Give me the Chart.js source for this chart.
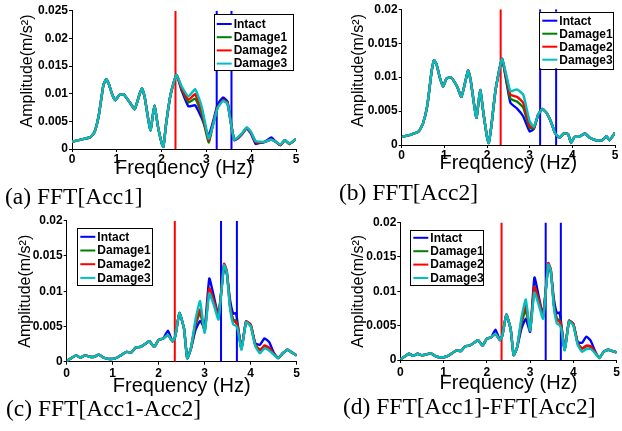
<!DOCTYPE html>
<html><head><meta charset="utf-8">
<script src="https://cdn.jsdelivr.net/npm/chart.js"></script>
<style>
html,body{margin:0;padding:0;background:#fff;}
#wrap{position:relative;width:622px;height:431px;overflow:hidden;background:#fff;}
canvas{position:absolute;}
.cap{position:absolute;font-family:"Liberation Serif","Times New Roman",serif;font-size:23.5px;line-height:23.5px;color:#000;white-space:nowrap;}
</style></head><body>
<div id="wrap">
<canvas id="cA" width="311" height="190" style="left:0px;top:0px"></canvas>
<canvas id="cB" width="311" height="190" style="left:311px;top:0px"></canvas>
<canvas id="cC" width="311" height="190" style="left:0px;top:212px"></canvas>
<canvas id="cD" width="311" height="190" style="left:311px;top:212px"></canvas>
<div class="cap" style="left:5px;top:184.5px">(a) FFT[Acc1]</div>
<div class="cap" style="left:339px;top:180.5px">(b) FFT[Acc2]</div>
<div class="cap" style="left:6px;top:396.5px">(c) FFT[Acc1-Acc2]</div>
<div class="cap" style="left:343px;top:394.5px">(d) FFT[Acc1]-FFT[Acc2]</div>
</div>
<script>
// ---------- data ----------
const seriesNames = ['Intact', 'Damage1', 'Damage2', 'Damage3'];
const seriesColors = ['rgb(0,0,255)', 'rgb(0,128,0)', 'rgb(255,0,0)', 'rgb(0,191,191)'];
const xTicks = [0, 1, 2, 3, 4, 5];

// (a) FFT[Acc1]
const freqA = [0, 0.2, 0.4, 0.5, 0.6, 0.7, 0.76, 0.82, 0.9, 0.97, 1.05, 1.15, 1.3, 1.4, 1.5, 1.56, 1.62, 1.75, 1.84, 1.92, 2.0, 2.04, 2.1, 2.2, 2.33, 2.45, 2.6, 2.75, 2.9, 3.05, 3.15, 3.25, 3.37, 3.47, 3.55, 3.62, 3.7, 3.8, 3.9, 4.0, 4.1, 4.2, 4.3, 4.45, 4.55, 4.65, 4.75, 4.85, 5.0];
const a_intact = [0.0013, 0.0017, 0.0021, 0.003, 0.0062, 0.0115, 0.0126, 0.0118, 0.0098, 0.0088, 0.0097, 0.0099, 0.0083, 0.0072, 0.0097, 0.011, 0.0095, 0.0034, 0.0078, 0.004, 0.0011, 0.0004, 0.0045, 0.0098, 0.0134, 0.0105, 0.0077, 0.0079, 0.0055, 0.0025, 0.005, 0.008, 0.0093, 0.0086, 0.0047, 0.0016, 0.0019, 0.0027, 0.0037, 0.0027, 0.0009, 0.0011, 0.0013, 0.0021, 0.0013, 0.0007, 0.0016, 0.0009, 0.0018];
const a_dmg1 = [0.0013, 0.0017, 0.0021, 0.003, 0.0062, 0.0115, 0.0126, 0.0118, 0.0098, 0.0088, 0.0097, 0.0099, 0.0083, 0.0072, 0.0097, 0.011, 0.0095, 0.0034, 0.0078, 0.004, 0.0011, 0.0004, 0.0045, 0.0098, 0.0134, 0.0108, 0.0084, 0.0091, 0.0062, 0.0012, 0.0045, 0.0075, 0.0088, 0.0083, 0.0045, 0.0017, 0.002, 0.0028, 0.0038, 0.0029, 0.0013, 0.0012, 0.0013, 0.0017, 0.0013, 0.0007, 0.0016, 0.0009, 0.0018];
const a_dmg2 = [0.0013, 0.0017, 0.0021, 0.003, 0.0062, 0.0115, 0.0126, 0.0118, 0.0098, 0.0088, 0.0097, 0.0099, 0.0083, 0.0072, 0.0097, 0.011, 0.0095, 0.0034, 0.0078, 0.004, 0.0011, 0.0004, 0.0045, 0.0098, 0.0134, 0.011, 0.0089, 0.0099, 0.0068, 0.0016, 0.0045, 0.0075, 0.0088, 0.0083, 0.0045, 0.0017, 0.002, 0.0028, 0.0038, 0.0029, 0.0013, 0.0012, 0.0013, 0.0017, 0.0013, 0.0007, 0.0016, 0.0009, 0.0018];
const a_dmg3 = [0.0013, 0.0017, 0.0021, 0.003, 0.0062, 0.0115, 0.0126, 0.0118, 0.0098, 0.0088, 0.0097, 0.0099, 0.0083, 0.0072, 0.0097, 0.011, 0.0095, 0.0034, 0.0078, 0.004, 0.0011, 0.0004, 0.0045, 0.0098, 0.0134, 0.0113, 0.0095, 0.0108, 0.0075, 0.0019, 0.0044, 0.0074, 0.0087, 0.0082, 0.0045, 0.0017, 0.0021, 0.0029, 0.0039, 0.003, 0.0014, 0.0013, 0.0013, 0.0017, 0.0013, 0.0008, 0.0016, 0.001, 0.0018];
const a_redLines = [2.31];
const a_blueLines = [3.23, 3.56];
const a_yTicks = [0, 0.005, 0.01, 0.015, 0.02, 0.025];

// (b) FFT[Acc2]
const freqB = [0, 0.2, 0.4, 0.5, 0.6, 0.7, 0.76, 0.82, 0.9, 0.97, 1.05, 1.15, 1.3, 1.4, 1.5, 1.56, 1.62, 1.75, 1.84, 1.92, 2.0, 2.04, 2.1, 2.2, 2.35, 2.45, 2.55, 2.7, 2.85, 3.0, 3.1, 3.2, 3.3, 3.4, 3.5, 3.6, 3.7, 3.8, 3.9, 3.97, 4.05, 4.15, 4.3, 4.4, 4.55, 4.7, 4.8, 4.87, 5.0];
const b_intact = [0.0012, 0.0015, 0.002, 0.0032, 0.0058, 0.0108, 0.0125, 0.0118, 0.0098, 0.0086, 0.0098, 0.01, 0.0086, 0.0071, 0.0096, 0.011, 0.0094, 0.004, 0.0081, 0.0045, 0.0012, 0.0003, 0.0027, 0.0081, 0.0127, 0.0095, 0.0062, 0.0054, 0.0042, 0.002, 0.0024, 0.0045, 0.0053, 0.0047, 0.0034, 0.0017, 0.0011, 0.0017, 0.0016, 0.0003, 0.0012, 0.0012, 0.0017, 0.0011, 0.0007, 0.0007, 0.0013, 0.0007, 0.0018];
const b_dmg1 = [0.0012, 0.0015, 0.002, 0.0032, 0.0058, 0.0108, 0.0125, 0.0118, 0.0098, 0.0086, 0.0098, 0.01, 0.0086, 0.0071, 0.0096, 0.011, 0.0094, 0.004, 0.0081, 0.0045, 0.0012, 0.0003, 0.0027, 0.0081, 0.0127, 0.0098, 0.0068, 0.0064, 0.0055, 0.0025, 0.0025, 0.0045, 0.0053, 0.0047, 0.0034, 0.0017, 0.0011, 0.0017, 0.0016, 0.0003, 0.0012, 0.0012, 0.0017, 0.0011, 0.0007, 0.0007, 0.0013, 0.0007, 0.0018];
const b_dmg2 = [0.0012, 0.0015, 0.002, 0.0032, 0.0058, 0.0108, 0.0125, 0.0118, 0.0098, 0.0086, 0.0098, 0.01, 0.0086, 0.0071, 0.0096, 0.011, 0.0094, 0.004, 0.0081, 0.0045, 0.0012, 0.0003, 0.0027, 0.0081, 0.0127, 0.0101, 0.0074, 0.0071, 0.0062, 0.0028, 0.0026, 0.0045, 0.0053, 0.0047, 0.0034, 0.0017, 0.0011, 0.0017, 0.0016, 0.0003, 0.0012, 0.0012, 0.0017, 0.0011, 0.0007, 0.0007, 0.0013, 0.0007, 0.0018];
const b_dmg3 = [0.0012, 0.0015, 0.002, 0.0032, 0.0058, 0.0108, 0.0125, 0.0118, 0.0098, 0.0086, 0.0098, 0.01, 0.0086, 0.0071, 0.0096, 0.011, 0.0094, 0.004, 0.0081, 0.0045, 0.0012, 0.0003, 0.0027, 0.0081, 0.0127, 0.0104, 0.0079, 0.0082, 0.0074, 0.0035, 0.0027, 0.0045, 0.0053, 0.0047, 0.0034, 0.0017, 0.0011, 0.0017, 0.0016, 0.0003, 0.0012, 0.0012, 0.0017, 0.0011, 0.0007, 0.0007, 0.0013, 0.0007, 0.0018];
const b_redLines = [2.32];
const b_blueLines = [3.245, 3.62];
const b_yTicks = [0, 0.005, 0.01, 0.015, 0.02];

// (c) FFT[Acc1-Acc2]
const freqC = [0, 0.1, 0.2, 0.3, 0.4, 0.5, 0.6, 0.7, 0.8, 0.9, 1.0, 1.1, 1.2, 1.3, 1.4, 1.5, 1.6, 1.7, 1.8, 1.9, 2.0, 2.1, 2.2, 2.3, 2.36, 2.45, 2.55, 2.62, 2.7, 2.8, 2.9, 3.0, 3.1, 3.2, 3.3, 3.42, 3.48, 3.55, 3.62, 3.68, 3.72, 3.8, 3.9, 4.0, 4.1, 4.2, 4.3, 4.4, 4.5, 4.6, 4.7, 4.8, 4.9, 5.0];
const c_intact = [0.0001, 0.0005, 0.0009, 0.0006, 0.0009, 0.0007, 0.0007, 0.001, 0.0006, 0.0004, 0.0004, 0.0006, 0.001, 0.0014, 0.0013, 0.002, 0.0021, 0.0025, 0.0029, 0.0021, 0.0031, 0.0033, 0.0044, 0.0029, 0.0036, 0.0069, 0.0047, 0.0005, 0.0018, 0.0045, 0.0058, 0.0048, 0.0118, 0.0092, 0.0066, 0.0135, 0.0125, 0.0088, 0.0068, 0.0069, 0.0052, 0.0019, 0.0057, 0.0052, 0.0026, 0.0024, 0.0033, 0.0028, 0.0013, 0.0005, 0.0012, 0.0017, 0.0013, 0.0009];
const c_dmg1 = [0.0001, 0.0005, 0.0009, 0.0006, 0.0009, 0.0007, 0.0007, 0.001, 0.0006, 0.0004, 0.0004, 0.0006, 0.001, 0.0014, 0.0013, 0.002, 0.0021, 0.0025, 0.0029, 0.0021, 0.0031, 0.0033, 0.0038, 0.0029, 0.0036, 0.0069, 0.0047, 0.0005, 0.0019, 0.0052, 0.0069, 0.0044, 0.0102, 0.0086, 0.0063, 0.0137, 0.0128, 0.008, 0.006, 0.0058, 0.0049, 0.0019, 0.0057, 0.0052, 0.0024, 0.0017, 0.0021, 0.0019, 0.0011, 0.0005, 0.0012, 0.0017, 0.0013, 0.0009];
const c_dmg2 = [0.0001, 0.0005, 0.0009, 0.0006, 0.0009, 0.0007, 0.0007, 0.001, 0.0006, 0.0004, 0.0004, 0.0006, 0.001, 0.0014, 0.0013, 0.002, 0.0021, 0.0025, 0.0029, 0.0021, 0.0031, 0.0033, 0.0038, 0.0029, 0.0036, 0.0069, 0.0047, 0.0005, 0.0019, 0.0055, 0.0074, 0.0043, 0.0104, 0.0085, 0.0063, 0.0139, 0.0129, 0.0079, 0.0058, 0.0056, 0.0048, 0.0019, 0.0057, 0.0052, 0.0024, 0.0016, 0.0023, 0.002, 0.0011, 0.0005, 0.0012, 0.0017, 0.0013, 0.0009];
const c_dmg3 = [0.0001, 0.0005, 0.0009, 0.0006, 0.0009, 0.0007, 0.0007, 0.001, 0.0006, 0.0004, 0.0004, 0.0006, 0.001, 0.0014, 0.0013, 0.002, 0.0021, 0.0025, 0.0029, 0.0021, 0.0031, 0.0033, 0.0038, 0.0029, 0.0036, 0.0069, 0.0047, 0.0005, 0.0019, 0.006, 0.0086, 0.0041, 0.0097, 0.008, 0.006, 0.0137, 0.0127, 0.0076, 0.0053, 0.0051, 0.0045, 0.0017, 0.0056, 0.005, 0.0022, 0.0012, 0.0019, 0.0016, 0.001, 0.0005, 0.0012, 0.0017, 0.0013, 0.0009];
const c_redLines = [2.35];
const c_blueLines = [3.355, 3.70];
const c_yTicks = [0, 0.005, 0.01, 0.015, 0.02];

// (d) FFT[Acc1]-FFT[Acc2]
const freqD = [0, 0.1, 0.2, 0.3, 0.4, 0.5, 0.6, 0.7, 0.8, 0.9, 1.0, 1.1, 1.2, 1.3, 1.4, 1.5, 1.6, 1.7, 1.8, 1.9, 2.0, 2.1, 2.2, 2.3, 2.36, 2.45, 2.55, 2.62, 2.7, 2.8, 2.9, 3.0, 3.1, 3.2, 3.3, 3.42, 3.48, 3.55, 3.62, 3.68, 3.72, 3.8, 3.9, 4.0, 4.1, 4.2, 4.3, 4.4, 4.5, 4.6, 4.7, 4.8, 4.9, 5.0];
const d_intact = [0.0001, 0.0005, 0.0009, 0.0006, 0.0009, 0.0007, 0.0008, 0.001, 0.0006, 0.0004, 0.0004, 0.0006, 0.001, 0.0014, 0.0013, 0.002, 0.0021, 0.0025, 0.0029, 0.0021, 0.0031, 0.0033, 0.0044, 0.0029, 0.0036, 0.0066, 0.0045, 0.0007, 0.0018, 0.0046, 0.006, 0.0041, 0.012, 0.0092, 0.0066, 0.0138, 0.0127, 0.0088, 0.0068, 0.0069, 0.0052, 0.0015, 0.0057, 0.0052, 0.0026, 0.0025, 0.0034, 0.0028, 0.0013, 0.0003, 0.0012, 0.0015, 0.0013, 0.0011];
const d_dmg1 = [0.0001, 0.0005, 0.0009, 0.0006, 0.0009, 0.0007, 0.0008, 0.001, 0.0006, 0.0004, 0.0004, 0.0006, 0.001, 0.0014, 0.0013, 0.002, 0.0021, 0.0025, 0.0029, 0.0021, 0.0031, 0.0033, 0.0038, 0.0029, 0.0036, 0.0066, 0.0045, 0.0007, 0.0019, 0.0053, 0.0073, 0.0044, 0.0107, 0.0087, 0.0063, 0.014, 0.013, 0.008, 0.006, 0.0058, 0.0049, 0.0015, 0.0057, 0.0052, 0.0024, 0.0017, 0.002, 0.0019, 0.0011, 0.0003, 0.0012, 0.0015, 0.0013, 0.0011];
const d_dmg2 = [0.0001, 0.0005, 0.0009, 0.0006, 0.0009, 0.0007, 0.0008, 0.001, 0.0006, 0.0004, 0.0004, 0.0006, 0.001, 0.0014, 0.0013, 0.002, 0.0021, 0.0025, 0.0029, 0.0021, 0.0031, 0.0033, 0.0038, 0.0029, 0.0036, 0.0066, 0.0045, 0.0007, 0.0019, 0.0057, 0.008, 0.0044, 0.0106, 0.0086, 0.0063, 0.0141, 0.0131, 0.0079, 0.0058, 0.0056, 0.0048, 0.0015, 0.0057, 0.0052, 0.0024, 0.0016, 0.0021, 0.002, 0.0011, 0.0003, 0.0012, 0.0015, 0.0013, 0.0011];
const d_dmg3 = [0.0001, 0.0005, 0.0009, 0.0006, 0.0009, 0.0007, 0.0008, 0.001, 0.0006, 0.0004, 0.0004, 0.0006, 0.001, 0.0014, 0.0013, 0.002, 0.0021, 0.0025, 0.0029, 0.0021, 0.0031, 0.0033, 0.0038, 0.0029, 0.0036, 0.0066, 0.0045, 0.0007, 0.0019, 0.0062, 0.0088, 0.0043, 0.0098, 0.008, 0.006, 0.0139, 0.0129, 0.0076, 0.0053, 0.0051, 0.0045, 0.0014, 0.0056, 0.005, 0.0022, 0.0012, 0.0016, 0.0016, 0.001, 0.0003, 0.0012, 0.0015, 0.0013, 0.0011];
const d_redLines = [2.34];
const d_blueLines = [3.36, 3.71];
const d_yTicks = [0, 0.005, 0.01, 0.015, 0.02];

// ---------- rendering ----------
const legendBoxPlugin = {
  id: 'legendBox',
  afterDraw(chart, args, opts) {
    const {ctx, chartArea} = chart;
    const x = chartArea.left + opts.x, y = chartArea.top + opts.y;
    ctx.save();
    ctx.fillStyle = '#fff';
    ctx.fillRect(x, y, opts.w, opts.h);
    ctx.strokeStyle = '#000';
    ctx.lineWidth = 1;
    ctx.strokeRect(Math.round(x) + 0.5, Math.round(y) + 0.5, Math.round(opts.w), Math.round(opts.h));
    ctx.font = 'bold 12px "Liberation Sans", Arial, sans-serif';
    ctx.textBaseline = 'middle';
    ctx.textAlign = 'left';
    let i = 0;
    chart.data.datasets.forEach(ds => {
      if (!ds.label) return;
      const ry = y + opts.row0 + i * opts.rowStep;
      ctx.strokeStyle = ds.borderColor;
      ctx.lineWidth = 2;
      ctx.beginPath();
      ctx.moveTo(x + 3, ry);
      ctx.lineTo(x + 18, ry);
      ctx.stroke();
      ctx.fillStyle = '#000';
      ctx.fillText(ds.label, x + 20, ry + 0.5);
      i++;
    });
    ctx.restore();
  }
};

function makeChart(id, freq, series, redLines, blueLines, yTicks, lay) {
  const yMax = yTicks[yTicks.length - 1];
  const datasets = [];
  const order = [4, 3, 2, 1];
  series.forEach((vals, i) => {
    datasets.push({
      label: seriesNames[i],
      data: freq.map((f, k) => ({x: f, y: vals[k]})),
      borderColor: seriesColors[i],
      borderWidth: 2.4,
      pointRadius: 0,
      tension: 0.15,
      borderJoinStyle: 'round',
      fill: false,
      order: order[i]
    });
  });
  redLines.forEach(f => datasets.push({
    label: '', data: [{x: f, y: 0}, {x: f, y: yMax}],
    borderColor: 'rgb(255,0,0)', borderWidth: 2, pointRadius: 0, tension: 0, order: 6
  }));
  blueLines.forEach(f => datasets.push({
    label: '', data: [{x: f, y: 0}, {x: f, y: yMax}],
    borderColor: 'rgb(0,0,255)', borderWidth: 2, pointRadius: 0, tension: 0, order: 6
  }));
  const tickFont = {family: '"Liberation Sans", Arial, sans-serif', size: 12, weight: 'bold'};
  return new Chart(document.getElementById(id), {
    type: 'line',
    data: {datasets},
    plugins: [legendBoxPlugin],
    options: {
      responsive: false,
      animation: false,
      events: [],
      layout: {padding: {left: 0, top: lay.padTop, right: lay.padRight, bottom: lay.padBottom}},
      plugins: {
        legend: {display: false},
        tooltip: {enabled: false},
        legendBox: lay.legend
      },
      scales: {
        x: {
          type: 'linear', min: 0, max: 5,
          afterBuildTicks: s => { s.ticks = xTicks.map(v => ({value: v})); },
          ticks: {font: tickFont, color: '#000', padding: lay.xTickPad, maxRotation: 0, callback: v => String(v)},
          grid: {drawOnChartArea: false, drawTicks: true, tickLength: 3, color: '#000'},
          border: {color: '#000', width: 1},
          title: {display: true, text: 'Frequency (Hz)', color: '#000', padding: 0,
                  font: {family: '"Liberation Sans", Arial, sans-serif', size: 20}},
          afterFit: s => { s.height = lay.xAxisH; }
        },
        y: {
          type: 'linear', min: 0, max: yMax,
          afterBuildTicks: s => { s.ticks = yTicks.map(v => ({value: v})); },
          ticks: {font: tickFont, color: '#000', padding: 1, callback: v => String(Number(v.toFixed(4)))},
          grid: {drawOnChartArea: false, drawTicks: true, tickLength: 3, color: '#000'},
          border: {color: '#000', width: 1},
          title: {display: true, text: lay.yTitle, color: '#000', padding: {top: lay.yTitlePad, bottom: 0},
                  font: {family: '"Liberation Sans", Arial, sans-serif', size: 16}},
          afterFit: s => { s.width = lay.yAxisW; }
        }
      }
    }
  });
}

makeChart('cA', freqA, [a_intact, a_dmg1, a_dmg2, a_dmg3], a_redLines, a_blueLines, a_yTicks,
  {padTop: 10.7, padRight: 15, padBottom: 10, xAxisH: 31, yAxisW: 72, yTitlePad: 18, xTickPad: 0,
   yTitle: '    Amplitude(m/s\u00B2)',
   legend: {x: 141.7, y: 3.3, w: 79, h: 56, row0: 10, rowStep: 13.2}});
makeChart('cB', freqB, [b_intact, b_dmg1, b_dmg2, b_dmg3], b_redLines, b_blueLines, b_yTicks,
  {padTop: 9.3, padRight: 7, padBottom: 15, xAxisH: 30, yAxisW: 90.7, yTitlePad: 38.4, xTickPad: 0,
   yTitle: '   Amplitude(m/s\u00B2)',
   legend: {x: 137.6, y: 2.4, w: 74.4, h: 56.6, row0: 9, rowStep: 13}});
makeChart('cC', freqC, [c_intact, c_dmg1, c_dmg2, c_dmg3], c_redLines, c_blueLines, c_yTicks,
  {padTop: 8.7, padRight: 14.3, padBottom: 3.3, xAxisH: 37, yAxisW: 66.7, yTitlePad: 16.4, xTickPad: 2,
   yTitle: 'Amplitude(m/s\u00B2)',
   legend: {x: 10.6, y: 7.6, w: 75.4, h: 56.7, row0: 8.5, rowStep: 13.7}});
makeChart('cD', freqD, [d_intact, d_dmg1, d_dmg2, d_dmg3], d_redLines, d_blueLines, d_yTicks,
  {padTop: 10.5, padRight: 2.7, padBottom: 7, xAxisH: 35, yAxisW: 89.3, yTitlePad: 38.4, xTickPad: 2,
   yTitle: 'Amplitude(m/s\u00B2)',
   legend: {x: 10, y: 7, w: 73.4, h: 55, row0: 8.3, rowStep: 13.4}});
</script>
</body></html>
